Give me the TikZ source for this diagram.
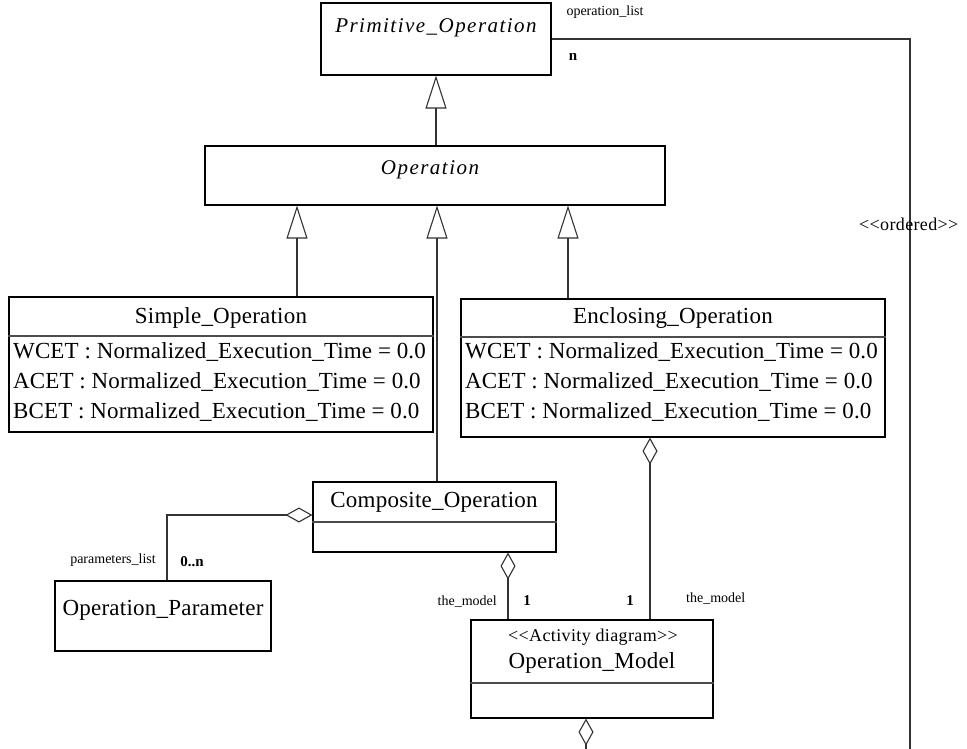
\documentclass[tikz,border=0pt]{standalone}
\usepackage{fontspec}
\setmainfont{Liberation Serif}
\usetikzlibrary{arrows.meta}
\newcommand{\fsz}[1]{\fontsize{#1}{#1}\selectfont}
\newcommand{\stereotype}[1]{{<}{<}#1{>}{>}}
\begin{document}
\begin{tikzpicture}[x=1pt,y=-1pt,
  box/.style={draw=black,line width=1.1pt,fill=white,inner sep=0pt},
  divider/.style={draw=black!70,line width=1.1pt},
  conn/.style={draw=black!80,line width=1.1pt},
  gen/.style={conn,-{Triangle[open,length=33,width=21,line width=1.1pt]}},
  agg/.style={conn,{Diamond[open,length=27,width=15,line width=1.1pt]}-},
  title/.style={inner sep=0pt,font=\fsz{23}\addfontfeature{LetterSpace=1}},
  ititle/.style={inner sep=0pt,font=\fsz{21}\itshape\addfontfeature{LetterSpace=7}},
  attr/.style={inner sep=0pt,anchor=west,font=\fsz{23}\addfontfeature{LetterSpace=0.5}},
  role/.style={inner sep=0pt,font=\fsz{14}},
  mult/.style={inner sep=0pt,font=\fsz{15}\bfseries},
  stereo/.style={inner sep=0pt,font=\fsz{18}\addfontfeature{LetterSpace=2}}]
\useasboundingbox[fill=white] (0,0) rectangle (967,749);

% classes
\node[box,minimum width=230,minimum height=72] (prim) at (436,39) {};
\node[ititle] (primT) at (436,28) {Primitive\_Operation};

\node[box,minimum width=460,minimum height=59] (op) at (435,175.5) {};
\node[ititle] (opT) at (430,170) {Operation};

\node[box,minimum width=424,minimum height=135] (simple) at (221,364.5) {};
\node[title] (simpleT) at (221,318) {Simple\_Operation};
\draw[divider] (simple.west |- 0,336) -- (simple.east |- 0,336);
\node[attr] (sa1) at (13,352) {WCET : Normalized\_Execution\_Time = 0.0};
\node[attr] (sa2) at (13,382) {ACET : Normalized\_Execution\_Time = 0.0};
\node[attr] (sa3) at (13,412) {BCET : Normalized\_Execution\_Time = 0.0};

\node[box,minimum width=424,minimum height=138] (encl) at (673,368) {};
\node[title] (enclT) at (673,318) {Enclosing\_Operation};
\draw[divider] (encl.west |- 0,337) -- (encl.east |- 0,337);
\node[attr] (ea1) at (465,352) {WCET : Normalized\_Execution\_Time = 0.0};
\node[attr] (ea2) at (465,382) {ACET : Normalized\_Execution\_Time = 0.0};
\node[attr] (ea3) at (465,412) {BCET : Normalized\_Execution\_Time = 0.0};

\node[box,minimum width=243,minimum height=70] (comp) at (434.5,517) {};
\node[title] (compT) at (434,502) {Composite\_Operation};
\draw[divider] (comp.west |- 0,522) -- (comp.east |- 0,522);

\node[box,minimum width=216,minimum height=70] (param) at (163,616) {};
\node[title] (paramT) at (163,610) {Operation\_Parameter};

\node[box,minimum width=242,minimum height=98] (model) at (592,669) {};
\node[stereo] (modelS) at (593,637) {\stereotype{Activity diagram}};
\node[title] (modelT) at (592,663) {Operation\_Model};
\draw[divider] (model.west |- 0,683) -- (model.east |- 0,683);

% generalizations
\draw[gen] (op.north -| 436,0) -- (prim.south -| 436,0);
\draw[gen] (simple.north -| 297,0) -- (op.south -| 297,0);
\draw[gen] (comp.north -| 437,0) -- (op.south -| 437,0);
\draw[gen] (encl.north -| 568,0) -- (op.south -| 568,0);

% ordered association of primitive operations
\coordinate (listEnd) at (910,749);
\draw[conn] (prim.east) -- (prim.east -| listEnd) -- (listEnd);
\node[role] (listR) at (605,12) {operation\_list};
\node[mult] (listM) at (573,57) {n};
\node[stereo,anchor=west] (ordered) at (859,224) {\stereotype{ordered}};

% aggregations
\draw[agg] (comp.west |- 0,515) -- (167,515) -- (param.north -| 167,0);
\node[role,anchor=east] (paramR) at (156,560) {parameters\_list};
\node[mult] (paramM) at (192,562) {0..n};

\draw[agg] (comp.south -| 508,0) -- (model.north -| 508,0);
\node[role,anchor=east] (compR) at (497,602) {the\_model};
\node[mult] (compM) at (527,601) {1};

\draw[agg] (encl.south -| 650,0) -- (model.north -| 650,0);
\node[mult] (enclM) at (630,601) {1};
\node[role,anchor=west] (enclR) at (686,599) {the\_model};

\coordinate (modelEnd) at (586,749);
\draw[agg] (model.south -| modelEnd) -- (modelEnd);
\end{tikzpicture}
\end{document}
